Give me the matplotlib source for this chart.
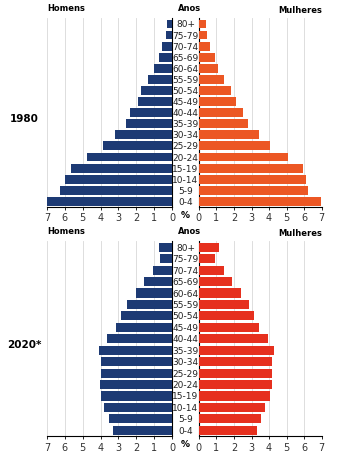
import numpy as np
import matplotlib
matplotlib.use('Agg')
import matplotlib.pyplot as plt

# age groups, from oldest (top) to youngest (bottom)
ages = ['80+', '75-79', '70-74', '65-69', '60-64', '55-59', '50-54', '45-49',
        '40-44', '35-39', '30-34', '25-29', '20-24', '15-19', '10-14', '5-9', '0-4']

# percent of population
men_1980 = [0.26, 0.32, 0.56, 0.75, 1.0, 1.34, 1.72, 1.9, 2.37, 2.6, 3.19,
            3.84, 4.74, 5.63, 6.0, 6.25, 6.98]
women_1980 = [0.38, 0.48, 0.63, 0.9, 1.09, 1.43, 1.85, 2.1, 2.52, 2.82, 3.42,
              4.06, 5.06, 5.92, 6.09, 6.24, 6.98]
men_2020 = [0.73, 0.66, 1.06, 1.55, 2.03, 2.52, 2.83, 3.13, 3.64, 4.08, 4.0,
            3.99, 4.04, 3.99, 3.78, 3.53, 3.31]
women_2020 = [1.16, 0.93, 1.41, 1.86, 2.38, 2.85, 3.12, 3.44, 3.92, 4.3, 4.18,
              4.14, 4.14, 4.05, 3.76, 3.54, 3.29]

ticks = [0, 1, 2, 3, 4, 5, 6, 7]
navy = '#1d3a74'

fig = plt.figure(figsize=(3.52, 4.60), dpi=100)

def panel(bottom, height, men, women, fcolor, year):
    y = np.arange(len(ages))[::-1]
    axl = fig.add_axes([0.1335, bottom, 0.355, height])
    axr = fig.add_axes([0.565, bottom, 0.349, height])
    axl.barh(y, men, height=0.8, color=navy, zorder=3)
    axr.barh(y, women, height=0.8, color=fcolor, zorder=3)
    axl.set_xlim(7, 0)
    axr.set_xlim(0, 7)
    for ax in (axl, axr):
        ax.set_ylim(-0.5, len(ages) - 0.45)
        ax.set_xticks(ticks)
        ax.set_xticklabels([str(t) for t in ticks], fontsize=7, color='#333333')
        ax.tick_params(axis='x', length=2, pad=2, width=0.6)
        ax.set_yticks([])
        ax.grid(axis='x', color='#d8d8d8', linewidth=0.6, zorder=0)
        ax.spines['top'].set_visible(False)
        ax.spines['bottom'].set_linewidth(0.8)
    axl.spines['left'].set_visible(False)
    axl.spines['right'].set_linewidth(0.8)
    axr.spines['right'].set_visible(False)
    axr.spines['left'].set_linewidth(0.8)
    # age labels between the two halves
    inv = fig.transFigure.inverted()
    for yi, lab in zip(y, ages):
        ycoord = inv.transform(axl.transData.transform((0, yi)))[1]
        fig.text(0.527, ycoord, lab, ha='center', va='center',
                 fontsize=6.5, color='#222222')
    top = bottom + height
    fig.text(0.1335, top + 0.012, 'Homens', fontsize=6, fontweight='bold', ha='left', va='bottom')
    fig.text(0.505, top + 0.012, 'Anos', fontsize=6, fontweight='bold', ha='left', va='bottom')
    fig.text(0.914, top + 0.008, 'Mulheres', fontsize=6, fontweight='bold', ha='right', va='bottom')
    fig.text(0.527, bottom - 0.006, '%', fontsize=6.5, fontweight='bold', ha='center', va='top')
    fig.text(0.07, bottom + height * 0.47, year, fontsize=7.5, fontweight='bold', ha='center', va='center')

panel(0.548, 0.411, men_1980, women_1980, '#ec5724', '1980')
panel(0.050, 0.424, men_2020, women_2020, '#e6301e', '2020*')

fig.savefig('out.png', dpi=100, facecolor='white')
